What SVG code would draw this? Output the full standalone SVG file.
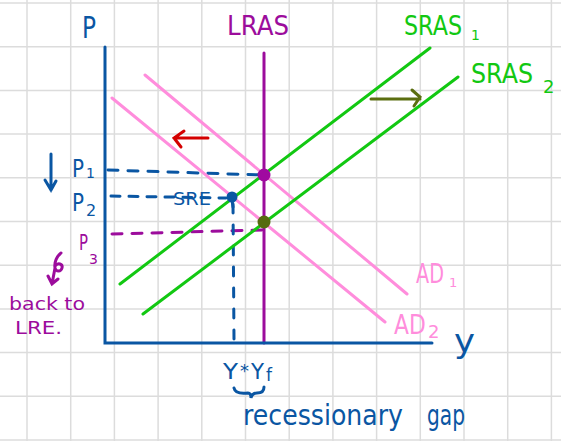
<svg xmlns="http://www.w3.org/2000/svg" width="561" height="441" viewBox="0 0 561 441">
<style>
.grid line{stroke:#dcdcdc;stroke-width:1.5}
text{font-family:"DejaVu Sans","Liberation Sans",sans-serif}
.blue{fill:#0a56a3}
.purple{fill:#9c0c9c}
.green{fill:#12c812}
.pink{fill:#ff8ddc}
.ln{fill:none;stroke-linecap:round;stroke-width:3}
</style>
<rect width="561" height="441" fill="#ffffff"/>
<g class="grid" id="grid">
<line x1="27" y1="0" x2="27" y2="441"/><line x1="70.7" y1="0" x2="70.7" y2="441"/><line x1="114.4" y1="0" x2="114.4" y2="441"/><line x1="158.1" y1="0" x2="158.1" y2="441"/><line x1="201.8" y1="0" x2="201.8" y2="441"/><line x1="245.5" y1="0" x2="245.5" y2="441"/><line x1="289.2" y1="0" x2="289.2" y2="441"/><line x1="332.9" y1="0" x2="332.9" y2="441"/><line x1="376.6" y1="0" x2="376.6" y2="441"/><line x1="420.3" y1="0" x2="420.3" y2="441"/><line x1="464" y1="0" x2="464" y2="441"/><line x1="507.7" y1="0" x2="507.7" y2="441"/><line x1="551.4" y1="0" x2="551.4" y2="441"/>
<line x1="0" y1="3" x2="561" y2="3"/><line x1="0" y1="46.7" x2="561" y2="46.7"/><line x1="0" y1="90.4" x2="561" y2="90.4"/><line x1="0" y1="134.1" x2="561" y2="134.1"/><line x1="0" y1="177.8" x2="561" y2="177.8"/><line x1="0" y1="221.5" x2="561" y2="221.5"/><line x1="0" y1="265.2" x2="561" y2="265.2"/><line x1="0" y1="308.9" x2="561" y2="308.9"/><line x1="0" y1="352.6" x2="561" y2="352.6"/><line x1="0" y1="396.3" x2="561" y2="396.3"/><line x1="0" y1="440" x2="561" y2="440"/>
</g>

<g id="connectors">
<path class="ln" d="M108 170 L262 175" stroke="#0a56a3" stroke-dasharray="10 10" stroke-width="2.6"/>
<path class="ln" d="M111 196 L226 198" stroke="#0a56a3" stroke-dasharray="9 9" stroke-width="2.6"/>
<path class="ln" d="M112 234 L262 230" stroke="#9c0c9c" stroke-dasharray="10 10" stroke-width="2.6"/>
<path class="ln" d="M233 204 L234 340" stroke="#0a56a3" stroke-dasharray="9 12" stroke-width="2.6"/>
<path class="ln" d="M145 75 L407 294" stroke="#ff8ddc"/>
<path class="ln" d="M112 98 L385 322" stroke="#ff8ddc"/>
<path class="ln" d="M120 284 L430 48" stroke="#12c812"/>
<path class="ln" d="M143 314 L458 77" stroke="#12c812"/>
<path class="ln" d="M264 53 L264 343" stroke="#9c0c9c"/>
<path class="ln" d="M105 47 L105 343 L432 343" stroke="#0a56a3" stroke-linecap="butt"/>
<path class="ln" d="M208 138 L174 138 M184 131 L174 138 L181 147" stroke="#d40000"/>
<path class="ln" d="M371 99 L420 99 M412 90 L420 97 L414 106" stroke="#5b6e10"/>
<path class="ln" d="M51 154 L51 190 M45 180 L51 190 L56 181" stroke="#0a56a3"/>
<path class="ln" d="M61 253 C57 256 54 262 55 268 C56 272 61 272 62 268 C63 264 58 262 55 266 M55 268 L52 284 M48 276 L52 284 L58 279" stroke="#9c0c9c" stroke-width="2.5"/>
<path class="ln" d="M234 388 C235 393 240 394 248 393 C250 393 251 395 251 398 C252 394 254 393 257 393 C262 393 264 391 264 387" stroke="#0a56a3" stroke-width="2.5"/>
</g>

<g id="p1-point"><circle cx="264" cy="175" r="6.5" fill="#a00aa0"/></g>
<g id="sre-point"><circle cx="232" cy="197" r="5.5" fill="#0a56a3"/><path class="ln" d="M232 200 L233 207" stroke="#0a56a3"/></g>
<g id="p3-point"><circle cx="264" cy="222" r="6.5" fill="#566b10"/></g>

<g id="labels">
<text x="82" y="38" class="blue" font-size="30" textLength="14" lengthAdjust="spacingAndGlyphs">P</text>
<text x="227" y="35" class="purple" font-size="26" textLength="62" lengthAdjust="spacingAndGlyphs">LRAS</text>
<text x="404" y="35" class="green" font-size="26" textLength="58" lengthAdjust="spacingAndGlyphs">SRAS</text>
<text x="471" y="40" class="green" font-size="14">1</text>
<text x="471" y="83" class="green" font-size="26" textLength="62" lengthAdjust="spacingAndGlyphs">SRAS</text>
<text x="543" y="93" class="green" font-size="18">2</text>
<text x="72" y="177" class="blue" font-size="24" textLength="12" lengthAdjust="spacingAndGlyphs">P</text>
<text x="86" y="178" class="blue" font-size="14">1</text>
<text x="72" y="211" class="blue" font-size="24" textLength="12" lengthAdjust="spacingAndGlyphs">P</text>
<text x="86" y="216" class="blue" font-size="16">2</text>
<text x="79" y="250" class="purple" font-size="22" textLength="9" lengthAdjust="spacingAndGlyphs">P</text>
<text x="89" y="264" class="purple" font-size="14">3</text>
<text x="173" y="205" class="blue" font-size="17" textLength="38" lengthAdjust="spacingAndGlyphs">SRE</text>
<text x="9" y="310" class="purple" font-size="18" textLength="76" lengthAdjust="spacingAndGlyphs">back  to</text>
<text x="15" y="334" class="purple" font-size="18" textLength="47" lengthAdjust="spacingAndGlyphs">LRE.</text>
<text transform="translate(416,283) scale(0.74,1)" class="pink" font-size="26">AD</text>
<text x="449" y="287" class="pink" font-size="13">1</text>
<text transform="translate(394,334) scale(0.84,1)" class="pink" font-size="26">AD</text>
<text x="428" y="338" class="pink" font-size="18">2</text>
<text x="454" y="352" class="blue" font-size="32" textLength="21" lengthAdjust="spacingAndGlyphs">y</text>
<text x="223" y="379" class="blue" font-size="22" textLength="15" lengthAdjust="spacingAndGlyphs">Y</text>
<text x="240" y="377" class="blue" font-size="18">*</text>
<text x="251" y="379" class="blue" font-size="22" textLength="13" lengthAdjust="spacingAndGlyphs">Y</text>
<text x="266" y="381" class="blue" font-size="17">f</text>
<text x="243" y="425" class="blue" font-size="28" textLength="160" lengthAdjust="spacingAndGlyphs">recessionary</text>
<text x="427" y="425" class="blue" font-size="28" textLength="38" lengthAdjust="spacingAndGlyphs">gap</text>
</g>
</svg>
